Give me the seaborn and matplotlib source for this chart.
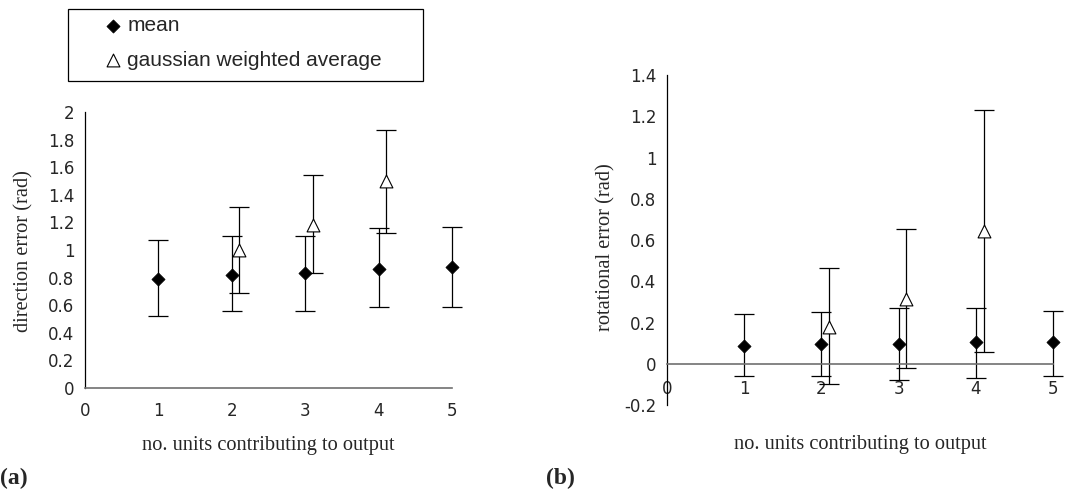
import pandas as pd
import matplotlib.pyplot as plt
import seaborn as sns
from matplotlib.patches import Rectangle

UNITS = [1, 2, 3, 4, 5]
GAUSS_UNITS = [2.1, 3.1, 4.1]

# (a) direction error
DIR_MEAN = [0.79, 0.82, 0.83, 0.86, 0.88]
DIR_MEAN_LO = [0.52, 0.56, 0.56, 0.59, 0.59]
DIR_MEAN_HI = [1.07, 1.10, 1.10, 1.16, 1.17]
DIR_GAUSS = [1.00, 1.18, 1.50]
DIR_GAUSS_LO = [0.69, 0.83, 1.12]
DIR_GAUSS_HI = [1.31, 1.54, 1.87]

# (b) rotational error
ROT_MEAN = [0.086, 0.097, 0.097, 0.107, 0.107]
ROT_MEAN_LO = [-0.058, -0.058, -0.078, -0.068, -0.058]
ROT_MEAN_HI = [0.239, 0.249, 0.268, 0.268, 0.258]
ROT_GAUSS = [0.18, 0.316, 0.643]
ROT_GAUSS_LO = [-0.097, -0.019, 0.058]
ROT_GAUSS_HI = [0.462, 0.652, 1.23]

MEAN_LABEL = "mean"
GAUSS_LABEL = "gaussian weighted average"
XLABEL = "no. units contributing to output"

SERIF = "Liberation Serif"
SANS = "DejaVu Sans"
W, H = 1075, 490


def draw_panel(ax, mean, mlo, mhi, gauss, glo, ghi):
    dm = pd.DataFrame({"x": UNITS, "y": mean, "lo": mlo, "hi": mhi})
    dg = pd.DataFrame({"x": GAUSS_UNITS, "y": gauss, "lo": glo, "hi": ghi})
    for d in (dm, dg):
        eb = ax.errorbar(d["x"], d["y"], yerr=[d["y"] - d["lo"], d["hi"] - d["y"]],
                         fmt="none", ecolor="black", elinewidth=0.9, capsize=7,
                         capthick=0.9, zorder=2)
        for art in eb.get_children():
            art.set_clip_on(False)
    sns.scatterplot(data=dm, x="x", y="y", marker="D", s=45, color="black",
                    edgecolor="black", linewidth=0.5, label=MEAN_LABEL,
                    ax=ax, zorder=3, legend=False, clip_on=False)
    sns.scatterplot(data=dg, x="x", y="y", marker="^", s=85, facecolor="white",
                    edgecolor="black", linewidth=0.8, label=GAUSS_LABEL,
                    ax=ax, zorder=3, legend=False, clip_on=False)
    ax.set_xlim(0, 5)
    ax.set_xticks([0, 1, 2, 3, 4, 5])
    for side in ("top", "right"):
        ax.spines[side].set_visible(False)
    ax.spines["left"].set_color("black")
    ax.spines["left"].set_linewidth(0.9)
    ax.spines["bottom"].set_color("#707070")
    ax.spines["bottom"].set_linewidth(1.2)
    ax.tick_params(direction="out", length=4, width=0.9, labelsize=12,
                   color="black")
    ax.grid(False)
    ax.set_xlabel("")
    ax.set_ylabel("")
    for lab in ax.get_xticklabels():
        lab.set_family(SANS)


sns.set_style("white")
fig = plt.figure(figsize=(W / 100, H / 100), dpi=100)

# (a)
ax1 = fig.add_axes([85 / W, 1 - 388 / H, 367 / W, 276 / H])
draw_panel(ax1, DIR_MEAN, DIR_MEAN_LO, DIR_MEAN_HI,
           DIR_GAUSS, DIR_GAUSS_LO, DIR_GAUSS_HI)
ax1.set_ylim(0, 2)
ax1.set_yticks([0, 0.2, 0.4, 0.6, 0.8, 1, 1.2, 1.4, 1.6, 1.8, 2])
ax1.set_yticklabels(["0", "0.2", "0.4", "0.6", "0.8", "1", "1.2", "1.4",
                     "1.6", "1.8", "2"], family=SANS)
ax1.tick_params(axis="x", pad=6)

# (b)
ax2 = fig.add_axes([667 / W, 1 - 405 / H, 386 / W, 330 / H])
draw_panel(ax2, ROT_MEAN, ROT_MEAN_LO, ROT_MEAN_HI,
           ROT_GAUSS, ROT_GAUSS_LO, ROT_GAUSS_HI)
ax2.set_ylim(-0.2, 1.4)
ax2.set_yticks([-0.2, 0, 0.2, 0.4, 0.6, 0.8, 1, 1.2, 1.4])
ax2.set_yticklabels(["-0.2", "0", "0.2", "0.4", "0.6", "0.8", "1", "1.2",
                     "1.4"], family=SANS)
ax2.spines["bottom"].set_position(("data", 0))
ax2.tick_params(axis="x", length=0, pad=12)

# axis labels
fig.text(268 / W, 1 - 445 / H, XLABEL, family=SERIF, fontsize=14.7,
         ha="center", va="center")
fig.text(860 / W, 1 - 444 / H, XLABEL, family=SERIF, fontsize=14.7,
         ha="center", va="center")
fig.text(24 / W, 1 - 251 / H, "direction error (rad)", family=SERIF,
         fontsize=14.7, rotation=90, ha="center", va="center")
fig.text(606 / W, 1 - 247 / H, "rotational error (rad)", family=SERIF,
         fontsize=14.7, rotation=90, ha="center", va="center")

# panel letters
fig.text(0.0, 1 - 478 / H, "(a)", family=SERIF, fontsize=17,
         fontweight="bold", ha="left", va="center")
fig.text(546 / W, 1 - 478 / H, "(b)", family=SERIF, fontsize=17,
         fontweight="bold", ha="left", va="center")

# legend box drawn separately, legend entries without frame
fig.patches.append(Rectangle((68 / W, 1 - 81 / H), 355 / W, 72 / H,
                             transform=fig.transFigure, fill=False,
                             edgecolor="black", linewidth=0.9))
handles, labels = ax1.get_legend_handles_labels()
fig.legend(handles, labels, loc="center left",
           bbox_to_anchor=(103 / W, 1 - 43 / H),
           prop={"family": "Liberation Sans", "size": 15, "style": "normal"},
           frameon=False, handletextpad=0.17, handlelength=1.0,
           borderpad=0, labelspacing=0.75, borderaxespad=0)

fig.savefig("out.png", dpi=100)
